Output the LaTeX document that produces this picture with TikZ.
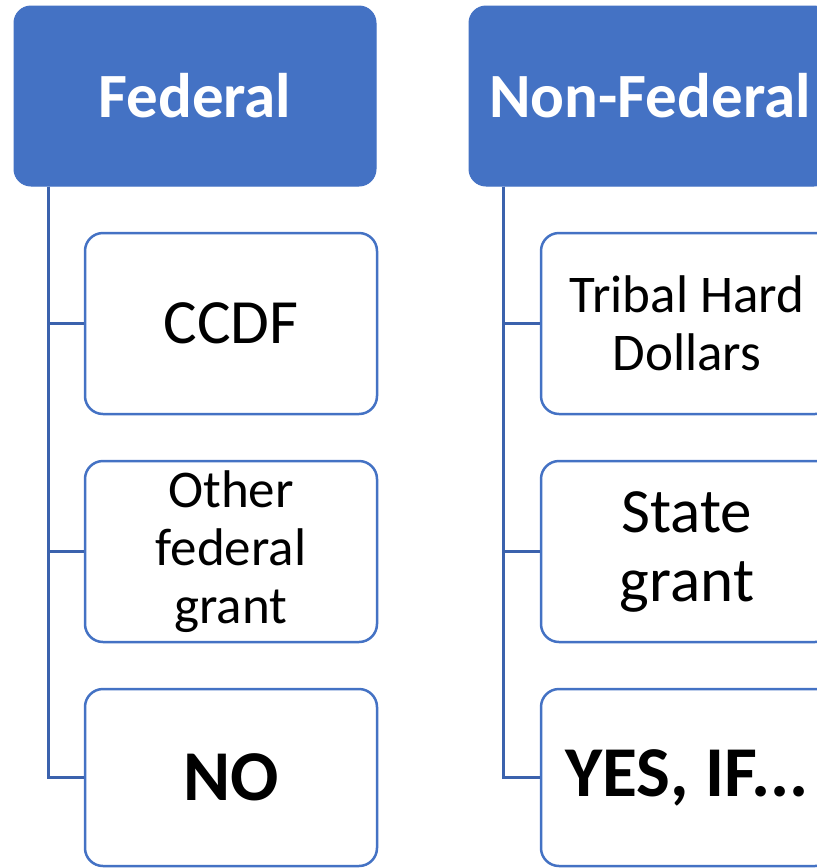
\documentclass[tikz,border=0pt]{standalone}
\usepackage{fontspec}
\setmainfont{Carlito}
\definecolor{hdrblue}{HTML}{4472C4}
\definecolor{linkblue}{HTML}{3B62AD}
\begin{document}
\begin{tikzpicture}[x=1pt,y=-1pt,
  header/.style={rectangle, rounded corners=17pt, fill=hdrblue, draw=hdrblue,
    line width=1pt, minimum width=362pt, minimum height=180pt, inner sep=0pt,
    text=white, font=\fontsize{63}{69}\selectfont\bfseries},
  item/.style={rectangle, rounded corners=18pt, fill=white, draw=hdrblue,
    line width=2.5pt, minimum width=292pt, inner sep=0pt, align=center, text=black},
  big/.style={font=\fontsize{63}{69}\selectfont},
  mid/.style={font=\fontsize{53}{58}\selectfont},
  bold/.style={font=\fontsize{71.5}{78}\selectfont\bfseries},
  conn/.style={draw=linkblue, line width=2.5pt}]
\useasboundingbox (0,0) rectangle (817,868);
\clip (0,0) rectangle (817,868);

% Federal column
\node[header] (fed) at (195,96) {Federal};
\node[item, big, minimum height=181pt] (ccdf)  at (231,323.5) {CCDF};
\node[item, mid, minimum height=181pt] (other) at (231,551.5) {Other\\federal\\grant};
\node[item, bold, minimum height=177pt] (no)   at (231,777.5) {NO};

% Non-Federal column
\node[header] (nfed) at (650,96) {Non-Federal};
\node[item, mid, minimum height=181pt] (tribal) at (687,323.5) {Tribal Hard\\Dollars};
\node[item, big, minimum height=181pt] (state)  at (687,551.5) {State\\grant};
\node[item, bold, minimum height=177pt] (yes)   at (687,777.5) {YES, IF...};

% Connectors from each header down the left side to its items
\foreach \h/\c in {fed/ccdf, fed/other, fed/no, nfed/tribal, nfed/state, nfed/yes}
  \draw[conn] ([xshift=35pt]\h.south west) |- (\c.west);
\end{tikzpicture}
\end{document}
